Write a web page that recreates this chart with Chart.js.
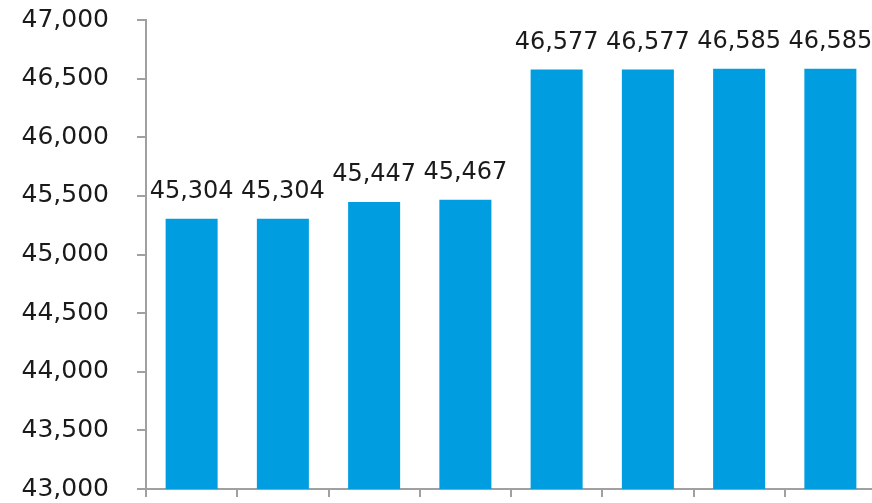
<!DOCTYPE html>
<html>
<head>
<meta charset="utf-8">
<script src="https://cdn.jsdelivr.net/npm/chart.js@4/dist/chart.umd.min.js"></script>
<style>
    html, body { margin: 0; padding: 0; background: #fff; overflow: hidden; }
    canvas { display: block; }
</style>
</head>
<body>
<canvas id="chart" width="876" height="503"></canvas>
<script>
// Chart data
const categories = ['1', '2', '3', '4', '5', '6', '7', '8'];
const values = [45304, 45304, 45447, 45467, 46577, 46577, 46585, 46585];
const yMin = 43000;
const yMax = 47000;
const yStep = 500;

const barColor = 'rgb(0, 158, 224)';
const axisColor = '#a0a0a0';
const textColor = '#1a1a1a';
const fontFamily = '"DejaVu Sans", Verdana, sans-serif';

// Value labels above each bar
const valueLabels = {
    id: 'valueLabels',
    afterDatasetsDraw(chart) {
        const ctx = chart.ctx;
        const meta = chart.getDatasetMeta(0);
        ctx.save();
        ctx.font = '24px ' + fontFamily;
        ctx.fillStyle = textColor;
        ctx.textAlign = 'center';
        ctx.textBaseline = 'alphabetic';
        meta.data.forEach((bar, i) => {
            ctx.fillText(values[i].toLocaleString('en-US'), bar.x, bar.y - 21);
        });
        ctx.restore();
    }
};

new Chart(document.getElementById('chart'), {
    type: 'bar',
    data: {
        labels: categories,
        datasets: [{
            data: values,
            backgroundColor: barColor,
            barPercentage: 0.57,
            categoryPercentage: 1
        }]
    },
    options: {
        responsive: false,
        animation: false,
        layout: { padding: { top: 20, left: 0, right: 0, bottom: 0 } },
        plugins: {
            legend: { display: false },
            tooltip: { enabled: false }
        },
        scales: {
            x: {
                offset: true,
                grid: {
                    offset: true,
                    drawOnChartArea: false,
                    drawTicks: true,
                    tickLength: 8,
                    color: axisColor,
                    lineWidth: 2
                },
                border: { display: true, color: axisColor, width: 2 },
                ticks: { display: false },
                afterFit(scale) {
                    scale.height = 14;
                    scale.paddingLeft = 0;
                    scale.paddingRight = 0;
                }
            },
            y: {
                min: yMin,
                max: yMax,
                grid: {
                    drawOnChartArea: false,
                    drawTicks: true,
                    tickLength: 9,
                    color: axisColor,
                    lineWidth: 2
                },
                border: { display: true, color: axisColor, width: 2 },
                ticks: {
                    stepSize: yStep,
                    padding: 28,
                    color: textColor,
                    font: { family: fontFamily, size: 25 },
                    callback: v => v.toLocaleString('en-US')
                },
                afterFit(scale) {
                    scale.width = 146;
                    scale.paddingTop = 0;
                    scale.paddingBottom = 0;
                }
            }
        }
    },
    plugins: [valueLabels]
});
</script>
</body>
</html>
